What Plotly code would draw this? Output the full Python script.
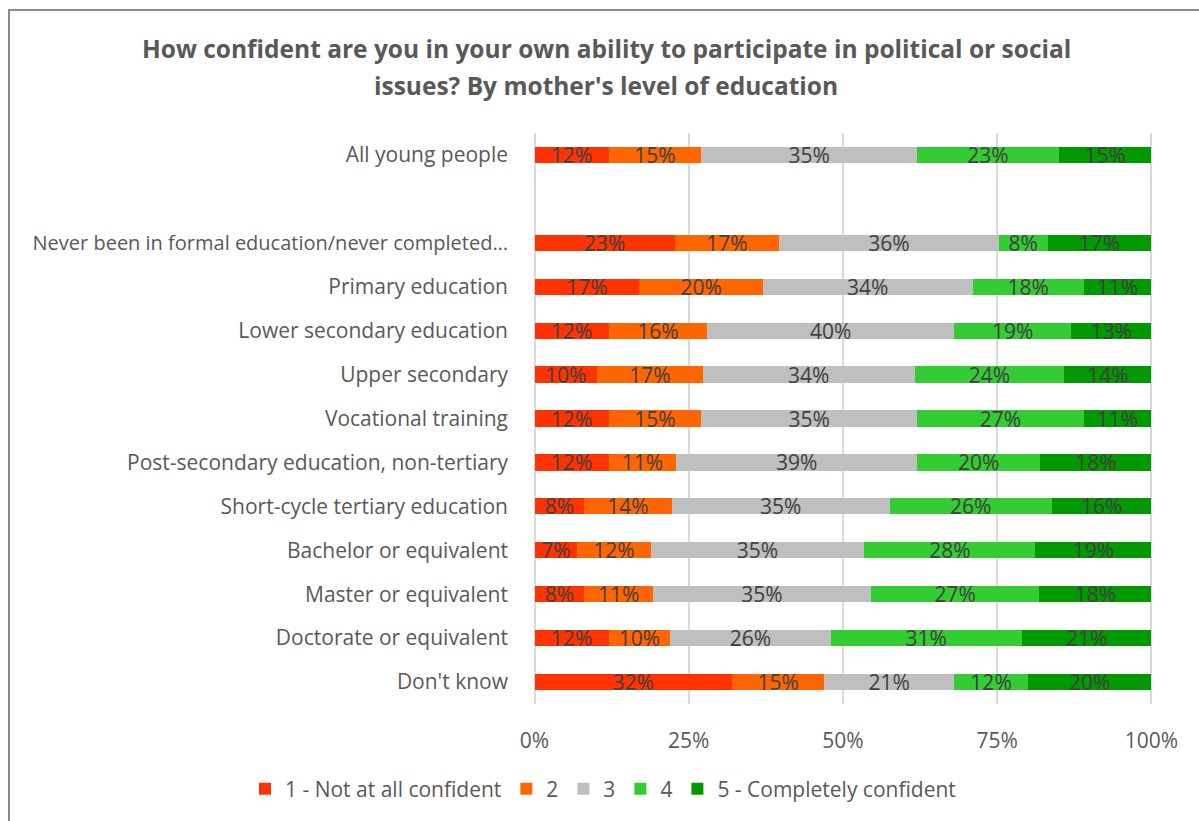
import plotly.graph_objects as go

# Rows top to bottom; the blank entry leaves a gap under the overall figure
groups = [
    "All young people",
    " ",
    "Never been in formal education/never completed…",
    "Primary education",
    "Lower secondary education",
    "Upper secondary",
    "Vocational training",
    "Post-secondary education, non-tertiary",
    "Short-cycle tertiary education",
    "Bachelor or equivalent",
    "Master or equivalent",
    "Doctorate or equivalent",
    "Don't know",
]

level_names = ["1 - Not at all confident", "2", "3", "4", "5 - Completely confident"]

level1 = [12, None, 23, 17, 12, 10, 12, 12, 8, 7, 8, 12, 32]
level2 = [15, None, 17, 20, 16, 17, 15, 11, 14, 12, 11, 10, 15]
level3 = [35, None, 36, 34, 40, 34, 35, 39, 35, 35, 35, 26, 21]
level4 = [23, None, 8, 18, 19, 24, 27, 20, 26, 28, 27, 31, 12]
level5 = [15, None, 17, 11, 13, 14, 11, 18, 16, 19, 18, 21, 20]

x_ticks = [0, 25, 50, 75, 100]
x_tick_labels = ["0%", "25%", "50%", "75%", "100%"]

series = [level1, level2, level3, level4, level5]
colors = ["#FF3300", "#FF6600", "#BFBFBF", "#33CC33", "#009900"]

FONT = "'Open Sans', Lato, sans-serif"
TEXT_GREY = "#595959"

# The longest row label is set a touch smaller so it stays inside the frame
y_tick_text = [
    f'<span style="font-size:20px">{g}</span>' if len(g) > 40 else g
    for g in groups
]

fig = go.Figure()
for name, vals, col in zip(level_names, series, colors):
    fig.add_trace(go.Bar(
        y=groups,
        x=vals,
        name=name,
        orientation="h",
        marker=dict(color=col, line=dict(width=0)),
        width=0.37,
        text=[("" if v is None else v) for v in vals],
        texttemplate="%{text}%",
        textposition="inside",
        insidetextanchor="middle",
        textfont=dict(family=FONT, size=21, color="#404040"),
    ))

W, H = 1199, 821
L, R, T, B = 533, 46, 133, 117
pw, ph = W - L - R, H - T - B


def px_to_paper_x(px):
    return (px - L) / pw


def px_to_paper_y(py):
    return (H - B - py) / ph


fig.update_layout(
    width=W,
    height=H,
    barmode="stack",
    barnorm="percent",
    margin=dict(l=L, r=R, t=T, b=B, pad=0, autoexpand=False),
    paper_bgcolor="white",
    plot_bgcolor="white",
    font=dict(family=FONT, color=TEXT_GREY, size=21),
    uniformtext=dict(minsize=21, mode="show"),
    showlegend=True,
    legend=dict(
        orientation="h",
        xref="paper", yref="paper",
        x=px_to_paper_x(245), xanchor="left",
        y=px_to_paper_y(789), yanchor="middle",
        bgcolor="rgba(0,0,0,0)",
        font=dict(family=FONT, size=21, color=TEXT_GREY),
        traceorder="normal",
        itemwidth=30,
    ),
    xaxis=dict(
        range=[-0.25, 100.25],
        tickmode="array",
        tickvals=x_ticks,
        ticktext=x_tick_labels,
        showgrid=True,
        gridcolor="#D9D9D9",
        gridwidth=2,
        zeroline=False,
        showline=False,
        ticks="",
        ticklabelstandoff=22,
        tickfont=dict(family=FONT, size=21, color=TEXT_GREY),
        fixedrange=True,
    ),
    yaxis=dict(
        type="category",
        categoryorder="array",
        categoryarray=groups,
        autorange="reversed",
        tickmode="array",
        tickvals=groups,
        ticktext=y_tick_text,
        showgrid=False,
        zeroline=False,
        showline=False,
        ticks="",
        ticklabelstandoff=24,
        tickfont=dict(family=FONT, size=21, color=TEXT_GREY),
        fixedrange=True,
    ),
)

# Two-line heading
title_lines = [
    ("How confident are you in your own ability to participate in political or social", 48),
    ("issues? By mother's level of education", 85),
]
for txt, py in title_lines:
    fig.add_annotation(
        text=f"<b>{txt}</b>",
        xref="paper", yref="paper",
        x=px_to_paper_x(606), y=px_to_paper_y(py),
        xanchor="center", yanchor="middle",
        showarrow=False,
        font=dict(family=FONT, size=24.5, color=TEXT_GREY),
    )

# Chart frame (open on the right and bottom edges of the page)
fig.add_shape(
    type="rect",
    xref="paper", yref="paper",
    x0=px_to_paper_x(9), x1=px_to_paper_x(1215),
    y0=px_to_paper_y(840), y1=px_to_paper_y(10),
    line=dict(color="#8C8C8C", width=2),
    fillcolor="rgba(0,0,0,0)",
    layer="below",
)

fig.write_html("out.html")
